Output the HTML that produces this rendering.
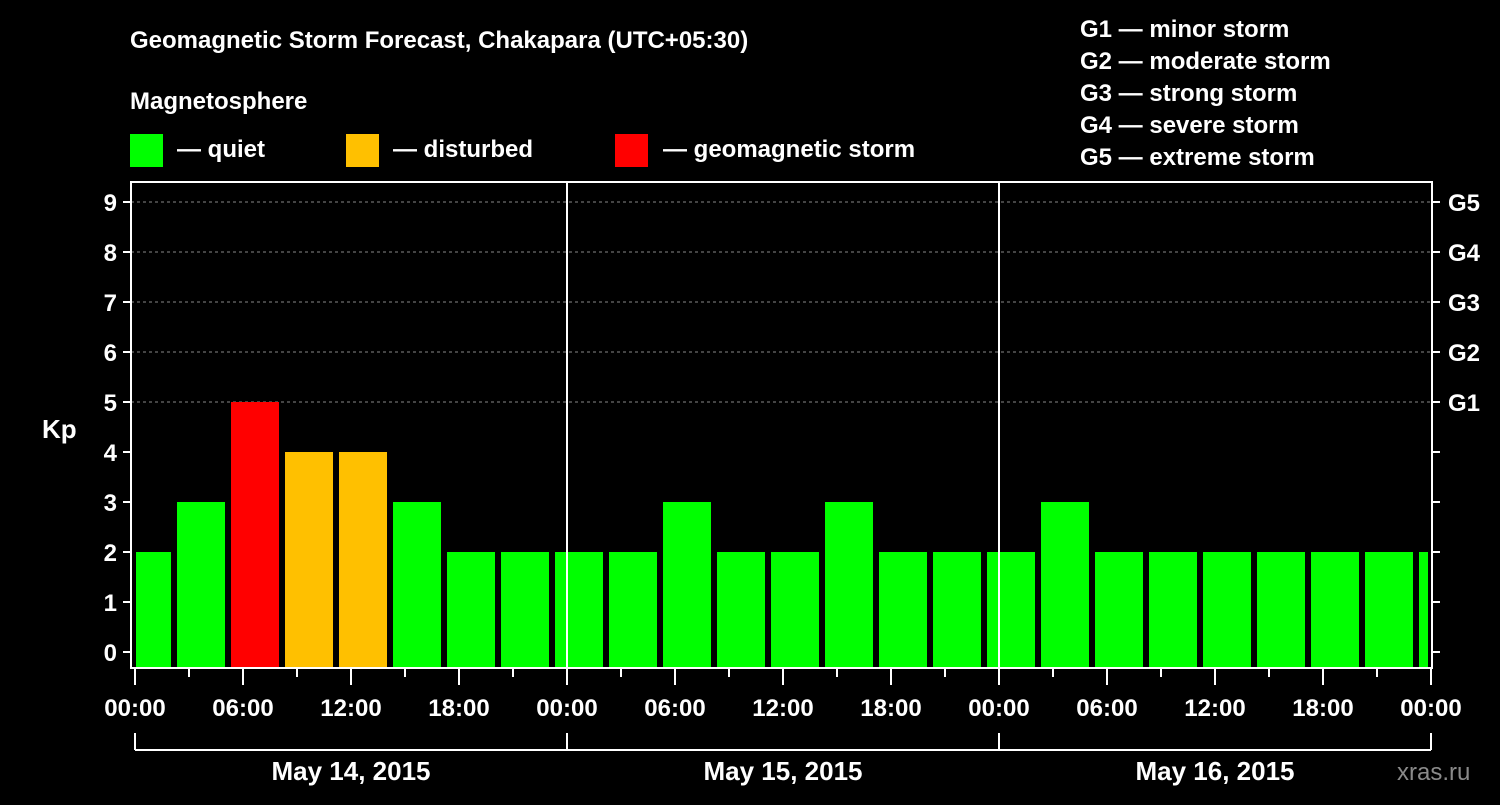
<!DOCTYPE html>
<html><head><meta charset="utf-8"><style>
body{margin:0;background:#000;width:1500px;height:800px;overflow:hidden}
svg text{font-family:"Liberation Sans",Arial,sans-serif;font-weight:bold;fill:#fff}
</style></head><body>
<svg id="c" width="1500" height="800" xmlns="http://www.w3.org/2000/svg">
<rect width="1500" height="800" fill="#000"/>
<text x="130" y="48" font-size="24">Geomagnetic Storm Forecast, Chakapara (UTC+05:30)</text>
<text x="130" y="109" font-size="24">Magnetosphere</text>
<g><rect x="130" y="134" width="33" height="33" fill="#00ff00"/><text x="177" y="157" font-size="24">— quiet</text></g>
<g><rect x="346" y="134" width="33" height="33" fill="#ffc000"/><text x="393" y="157" font-size="24">— disturbed</text></g>
<g><rect x="615" y="134" width="33" height="33" fill="#ff0000"/><text x="663" y="157" font-size="24">— geomagnetic storm</text></g>
<g font-size="24">
<text x="1080" y="37">G1 — minor storm</text>
<text x="1080" y="69">G2 — moderate storm</text>
<text x="1080" y="101">G3 — strong storm</text>
<text x="1080" y="133">G4 — severe storm</text>
<text x="1080" y="165">G5 — extreme storm</text>
</g>
<text x="42" y="438" font-size="26">Kp</text>
<text x="1397" y="780" font-size="24" fill="#888" style="fill:#8a8a8a;font-weight:normal">xras.ru</text>
<g id="plot"></g>
</svg>
<script>
const values=[2,3,5,4,4,3,2,2,2,2,3,2,2,3,2,2,2,3,2,2,2,2,2,2,2];
const kpTicks=[0,1,2,3,4,5,6,7,8,9];
const gLabels=["G1","G2","G3","G4","G5"];
const hourLabels=["00:00","06:00","12:00","18:00"];
const dayLabels=["May 14, 2015","May 15, 2015","May 16, 2015"];
const X0=135,DAY=432,L=131,R=1432,T=182,B=668;
const xh=h=>X0+h*DAY/24;
const yk=k=>652-k*50;
const ns="http://www.w3.org/2000/svg";
const p=document.getElementById('plot');
function mk(t,a){const e=document.createElementNS(ns,t);for(const k in a)e.setAttribute(k,a[k]);p.appendChild(e);return e;}
// grid
for(let k=5;k<=9;k++){const e=mk('line',{x1:L,x2:R,y1:yk(k),y2:yk(k),stroke:'#888','stroke-dasharray':'3,3','stroke-width':1});

}
// bars
values.forEach((v,i)=>{const start=-0.833+3*i;let x1=xh(start)+3,x2=xh(start+3)-3;
x1=Math.max(x1,L+5);x2=Math.min(x2,R-4);
const col=v>=5?'#ff0000':v>=4?'#ffc000':'#00ff00';
const e=mk('rect',{x:x1,y:yk(v),width:x2-x1,height:B-yk(v),fill:col});

});
// day separators
for(let d=1;d<3;d++){const e=mk('line',{x1:xh(24*d),x2:xh(24*d),y1:T,y2:B,stroke:'#fff','stroke-width':2});

}
// frame
const fr=mk('rect',{x:L,y:T,width:R-L,height:B-T,fill:'none',stroke:'#fff','stroke-width':2});


// y ticks
kpTicks.forEach(k=>{mk('line',{x1:L-8,x2:L,y1:yk(k),y2:yk(k),stroke:'#fff','stroke-width':2});
mk('line',{x1:R,x2:R+8,y1:yk(k),y2:yk(k),stroke:'#fff','stroke-width':2});
const t=mk('text',{x:L-14,y:yk(k)+9,'font-size':24,'text-anchor':'end'});t.textContent=k;

});
gLabels.forEach((g,i)=>{const t=mk('text',{x:R+16,y:yk(5+i)+9,'font-size':24});t.textContent=g;

});
// x ticks
for(let h=0;h<=72;h+=3){const major=h%6===0;mk('line',{x1:xh(h),x2:xh(h),y1:B,y2:B+(major?17:9),stroke:'#fff','stroke-width':2});}
for(let d=0;d<3;d++){hourLabels.forEach((lab,j)=>{const t=mk('text',{x:xh(24*d+6*j),y:716,'font-size':24,'text-anchor':'middle'});t.textContent=lab;

});
const t=mk('text',{x:xh(24*d+12),y:780,'font-size':26,'text-anchor':'middle'});t.textContent=dayLabels[d];

}
const tl=mk('text',{x:xh(72),y:716,'font-size':24,'text-anchor':'middle'});tl.textContent=hourLabels[0];


// bracket
mk('line',{x1:xh(0),x2:xh(72),y1:750,y2:750,stroke:'#fff','stroke-width':2});
for(let d=0;d<=3;d++)mk('line',{x1:xh(24*d),x2:xh(24*d),y1:733,y2:750,stroke:'#fff','stroke-width':2});
</script>
</body></html>
